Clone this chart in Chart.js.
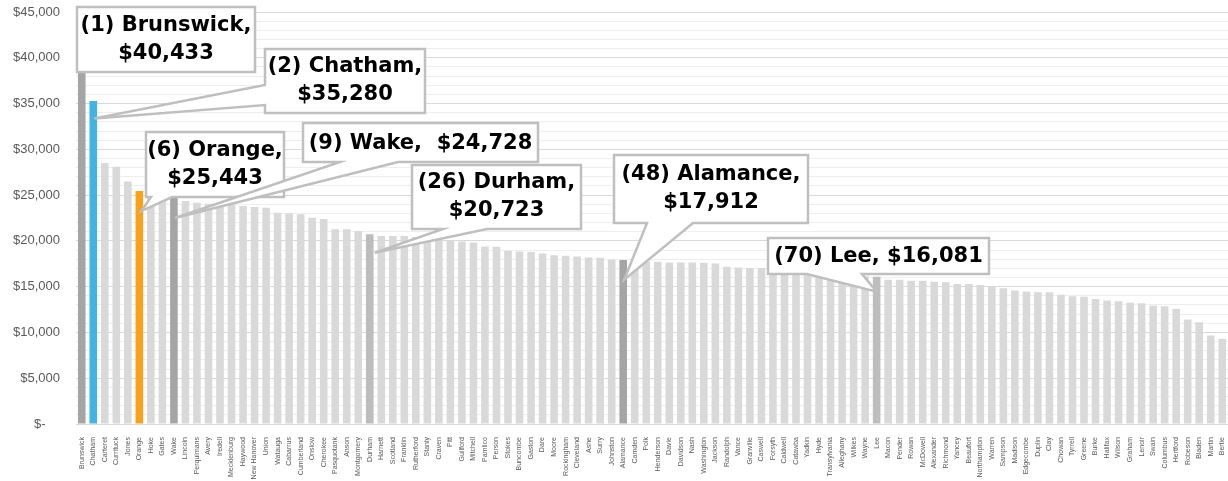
<!DOCTYPE html>
<html>
<head>
<meta charset="utf-8">
<script src="https://cdn.jsdelivr.net/npm/chart.js@4/dist/chart.umd.min.js"></script>
<style>
  html, body { margin: 0; padding: 0; background: #fff; }
  #wrap { width: 1228px; height: 481px; }
</style>
</head>
<body>
<div id="wrap"><canvas id="countyChart"></canvas></div>
<script>
const counties = ['Brunswick', 'Chatham', 'Carteret', 'Currituck', 'Jones', 'Orange', 'Hoke', 'Gates', 'Wake', 'Lincoln',
  'Perquimans', 'Avery', 'Iredell', 'Mecklenburg', 'Haywood', 'New Hanover', 'Union', 'Watauga', 'Cabarrus', 'Cumberland',
  'Onslow', 'Cherokee', 'Pasquotank', 'Anson', 'Montgomery', 'Durham', 'Harnett', 'Scotland', 'Franklin', 'Rutherford',
  'Stanly', 'Craven', 'Pitt', 'Guilford', 'Mitchell', 'Pamlico', 'Person', 'Stokes', 'Buncombe', 'Gaston',
  'Dare', 'Moore', 'Rockingham', 'Cleveland', 'Ashe', 'Surry', 'Johnston', 'Alamance', 'Camden', 'Polk',
  'Henderson', 'Davie', 'Davidson', 'Nash', 'Washington', 'Jackson', 'Randolph', 'Vance', 'Granville', 'Caswell',
  'Forsyth', 'Caldwell', 'Catawba', 'Yadkin', 'Hyde', 'Transylvania', 'Alleghany', 'Wilkes', 'Wayne', 'Lee',
  'Macon', 'Pender', 'Rowan', 'McDowell', 'Alexander', 'Richmond', 'Yancey', 'Beaufort', 'Northampton', 'Warren',
  'Sampson', 'Madison', 'Edgecombe', 'Duplin', 'Clay', 'Chowan', 'Tyrrell', 'Greene', 'Burke', 'Halifax',
  'Wilson', 'Graham', 'Lenoir', 'Swain', 'Columbus', 'Hertford', 'Robeson', 'Bladen', 'Martin', 'Bertie'];

const values = [40433, 35280, 28500, 28100, 26500, 25443, 25100, 24900, 24728, 24350,
  24160, 24060, 24000, 23950, 23800, 23700, 23620, 23080, 23000, 22900,
  22540, 22390, 21270, 21270, 21090, 20723, 20540, 20540, 20540, 20430,
  20360, 20180, 20000, 19930, 19820, 19390, 19350, 18910, 18840, 18800,
  18620, 18440, 18370, 18300, 18190, 18150, 17970, 17912, 17750, 17750,
  17720, 17650, 17650, 17650, 17610, 17540, 17170, 17100, 17030, 17030,
  17000, 16950, 16850, 16750, 16550, 16450, 16350, 16250, 16150, 16081,
  15760, 15760, 15650, 15650, 15540, 15470, 15290, 15290, 15180, 15000,
  14820, 14570, 14460, 14380, 14380, 14130, 13950, 13910, 13660, 13480,
  13410, 13260, 13190, 12930, 12860, 12570, 11410, 11120, 9670, 9310];

const yTicks = [0, 5000, 10000, 15000, 20000, 25000, 30000, 35000, 40000, 45000];

// bar colours for the highlighted counties, everything else light grey
const highlight = {
  Brunswick: '#a5a5a5', Chatham: '#41b4e4', Orange: '#f9a11b', Wake: '#a5a5a5',
  Durham: '#bdbdbd', Alamance: '#a5a5a5', Lee: '#bdbdbd'
};
const barColors = counties.map(c => highlight[c] || '#d9d9d9');

// callout boxes: text, box [x, y, w, h] in px, wedge side / base, and the bar it points at
const callouts = [
  { lines: ['(1) Brunswick,', '$40,433'], box: [77, 7, 178, 65] },
  { lines: ['(2) Chatham,', '$35,280'], box: [265, 49, 160, 64], side: 'left', base: [85, 105], bar: 1, at: 33370, dx: 1 },
  { lines: ['(6) Orange,', '$25,443'], box: [146, 132, 138, 65], side: 'bottom', base: [151, 172], bar: 5, at: 23260, dx: 2 },
  { lines: ['(9) Wake,  $24,728'], box: [303, 123, 235, 39], side: 'bottom', base: [340, 398], bar: 8, at: 22500, dx: 1 },
  { lines: ['(26) Durham,', '$20,723'], box: [412, 165, 169, 64], side: 'bottom', base: [443, 487], bar: 25, at: 18700, dx: 5 },
  { lines: ['(48) Alamance,', '$17,912'], box: [614, 155, 194, 68], side: 'bottom', base: [647, 693], bar: 47, at: 15760, dx: 1 },
  { lines: ['(70) Lee, $16,081'], box: [768, 238, 221, 36], side: 'bottom', base: [807, 862], bar: 69, at: 14460, dx: 0 }
];

const calloutPlugin = {
  id: 'callouts',
  afterDraw(chart) {
    const ctx = chart.ctx;
    const xs = chart.scales.x, ys = chart.scales.y;
    ctx.save();
    ctx.lineJoin = 'miter';
    callouts.forEach(c => {
      const [x, y, w, h] = c.box;
      ctx.beginPath();
      ctx.moveTo(x, y);
      ctx.lineTo(x + w, y);
      ctx.lineTo(x + w, y + h);
      if (c.side === 'bottom') {
        const ax = xs.getPixelForValue(c.bar) + (c.dx || 0);
        const ay = ys.getPixelForValue(c.at);
        ctx.lineTo(c.base[1], y + h);
        ctx.lineTo(ax, ay);
        ctx.lineTo(c.base[0], y + h);
        ctx.lineTo(x, y + h);
      } else if (c.side === 'left') {
        const ax = xs.getPixelForValue(c.bar) + (c.dx || 0);
        const ay = ys.getPixelForValue(c.at);
        ctx.lineTo(x, y + h);
        ctx.lineTo(x, c.base[1]);
        ctx.lineTo(ax, ay);
        ctx.lineTo(x, c.base[0]);
      } else {
        ctx.lineTo(x, y + h);
      }
      ctx.closePath();
      ctx.fillStyle = '#ffffff';
      ctx.fill();
      ctx.strokeStyle = '#bfbfbf';
      ctx.lineWidth = 2.5;
      ctx.stroke();

      ctx.fillStyle = '#000000';
      ctx.font = 'bold 21px "DejaVu Sans"';
      ctx.textAlign = 'center';
      ctx.textBaseline = 'middle';
      const cx = x + w / 2;
      if (c.lines.length === 1) {
        ctx.fillText(c.lines[0], cx, y + h / 2 + 1);
      } else {
        ctx.fillText(c.lines[0], cx, y + h / 2 - 14);
        ctx.fillText(c.lines[1], cx, y + h / 2 + 14);
      }
    });
    ctx.restore();
  }
};

new Chart(document.getElementById('countyChart').getContext('2d'), {
  type: 'bar',
  data: {
    labels: counties,
    datasets: [{
      data: values,
      backgroundColor: barColors,
      borderWidth: 0,
      barPercentage: 0.66,
      categoryPercentage: 1.0
    }]
  },
  options: {
    responsive: true,
    maintainAspectRatio: false,
    animation: false,
    layout: { padding: { top: 12, right: 0, bottom: 0, left: 0 } },
    plugins: {
      legend: { display: false },
      tooltip: { enabled: false }
    },
    scales: {
      x: {
        grid: { display: false },
        border: { display: true, color: '#d9d9d9' },
        ticks: {
          autoSkip: false,
          minRotation: 90,
          maxRotation: 90,
          padding: 5,
          color: '#595959',
          font: { family: '"Liberation Sans"', size: 7 }
        },
        afterFit(scale) {
          scale.height = 57;
          scale.paddingLeft = 0;
          scale.paddingRight = 0;
          scale.paddingTop = 0;
          scale.paddingBottom = 0;
        }
      },
      y: {
        min: 0,
        max: 45000,
        border: { display: false },
        grid: {
          drawTicks: false,
          color: ctx => yTicks.includes(ctx.tick.value) ? '#d9d9d9' : '#eeeeee',
          lineWidth: 1
        },
        ticks: {
          stepSize: 1000,
          autoSkip: false,
          padding: 16,
          color: '#595959',
          font: { family: '"Liberation Sans"', size: 13 },
          callback: function (value) {
            if (!yTicks.includes(value)) return '';
            if (value === 0) return '$-    ';
            return '$' + value.toLocaleString('en-US');
          }
        },
        afterFit(scale) {
          scale.width = 76;
          scale.paddingTop = 0;
          scale.paddingBottom = 0;
        }
      }
    }
  },
  plugins: [calloutPlugin]
});
</script>
</body>
</html>
